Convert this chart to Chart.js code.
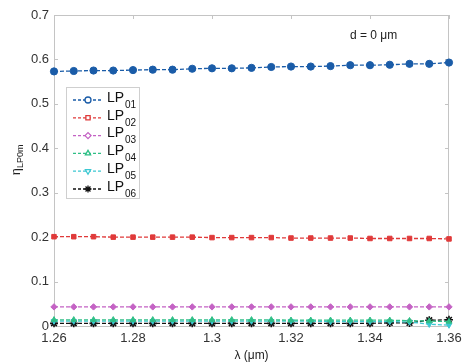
<!DOCTYPE html>
<html>
<head>
    <style>
        body { margin: 0; background: #fff; }
        #wrap { position: relative; width: 470px; height: 363px; }
    </style>
    <script src="https://cdn.jsdelivr.net/npm/chart.js"></script>
</head>
<body>
    <div id="wrap"><canvas id="myChart" width="470" height="363"></canvas></div>
    <script>
        // wavelength (um)
        var lambda = [1.26, 1.265, 1.27, 1.275, 1.28, 1.285, 1.29, 1.295, 1.3, 1.305, 1.31,
                      1.315, 1.32, 1.325, 1.33, 1.335, 1.34, 1.345, 1.35, 1.355, 1.36];
        var lp01 = [0.573, 0.574, 0.575, 0.575, 0.576, 0.577, 0.577, 0.579, 0.580, 0.580, 0.581,
                    0.583, 0.584, 0.584, 0.585, 0.587, 0.587, 0.588, 0.590, 0.590, 0.593];
        var lp02 = [0.201, 0.201, 0.201, 0.200, 0.200, 0.200, 0.200, 0.200, 0.199, 0.199, 0.199,
                    0.199, 0.198, 0.198, 0.198, 0.198, 0.197, 0.197, 0.197, 0.197, 0.196];
        var lp03 = [0.043, 0.043, 0.043, 0.043, 0.043, 0.043, 0.043, 0.043, 0.043, 0.043, 0.043,
                    0.043, 0.043, 0.043, 0.043, 0.043, 0.043, 0.043, 0.043, 0.043, 0.043];
        var lp04 = [0.014, 0.014, 0.014, 0.014, 0.014, 0.014, 0.014, 0.014, 0.014, 0.014, 0.014,
                    0.014, 0.013, 0.013, 0.013, 0.013, 0.013, 0.013, 0.012, 0.011, 0.010];
        var lp05 = [0.011, 0.011, 0.011, 0.011, 0.011, 0.011, 0.011, 0.011, 0.011, 0.011, 0.011,
                    0.011, 0.011, 0.011, 0.010, 0.010, 0.010, 0.010, 0.009, 0.004, 0.002];
        var lp06 = [0.006, 0.006, 0.006, 0.006, 0.006, 0.006, 0.006, 0.006, 0.006, 0.006, 0.006,
                    0.006, 0.006, 0.006, 0.006, 0.006, 0.006, 0.007, 0.007, 0.013, 0.014];
        var xTicks = [1.26, 1.28, 1.3, 1.32, 1.34, 1.36];
        var yTicks = [0, 0.1, 0.2, 0.3, 0.4, 0.5, 0.6, 0.7];
        var names = ['01', '02', '03', '04', '05', '06'];

        var colors = ['#1a5ca8', '#e03a3a', '#c462c4', '#2fbf86', '#3cc8d2', '#111111'];
        var shapes = ['circle', 'rect', 'rectRot', 'triangle', 'triangle', 'star'];
        var allData = [lp01, lp02, lp03, lp04, lp05, lp06];

        function pts(arr) {
            return arr.map(function(v, i) { return { x: lambda[i], y: v }; });
        }

        var datasets = allData.map(function(arr, k) {
            return {
                label: 'LP' + names[k],
                data: pts(arr),
                borderColor: colors[k],
                backgroundColor: colors[k],
                borderWidth: 1.3,
                borderDash: [4, 2],
                pointStyle: shapes[k],
                pointRotation: k === 4 ? 180 : 0,
                pointRadius: k === 0 ? 3.6 : (k === 5 ? 4 : 3.2),
                pointBorderWidth: k === 5 ? 1.6 : 1,
                clip: false,
                fill: false
            };
        });

        var font = 'Liberation Sans, Arial, sans-serif';

        var frame = {
            id: 'frame',
            beforeDatasetsDraw: function(chart) {
                var c = chart.ctx, a = chart.chartArea;
                var xs = chart.scales.x, ys = chart.scales.y;
                c.save();
                c.strokeStyle = '#c4c4c4';
                c.lineWidth = 1;
                c.strokeRect(a.left + 0.5, a.top + 0.5, a.right - a.left - 1, a.bottom - a.top);
                c.beginPath();
                xTicks.forEach(function(t) {
                    var px = Math.round(xs.getPixelForValue(t)) + 0.5;
                    c.moveTo(px, a.bottom); c.lineTo(px, a.bottom - 4);
                    c.moveTo(px, a.top); c.lineTo(px, a.top + 4);
                });
                yTicks.forEach(function(t) {
                    var py = Math.round(ys.getPixelForValue(t)) + 0.5;
                    c.moveTo(a.left, py); c.lineTo(a.left + 4, py);
                    c.moveTo(a.right, py); c.lineTo(a.right - 4, py);
                });
                c.stroke();
                c.restore();
            },
            afterDatasetsDraw: function(chart) {
                var c = chart.ctx;
                c.save();
                // annotation
                c.fillStyle = '#222';
                c.font = '12px ' + font;
                c.textBaseline = 'middle';
                c.fillText('d = 0 \u03bcm', 350, 36);

                // legend
                var lx = 66, ly = 87, lw = 73, lh = 111;
                c.fillStyle = '#fff';
                c.fillRect(lx, ly, lw, lh);
                c.strokeStyle = '#cfcfcf';
                c.lineWidth = 1;
                c.strokeRect(lx + 0.5, ly + 0.5, lw, lh);
                for (var k = 0; k < 6; k++) {
                    var yy = ly + 13 + k * 17.8;
                    c.strokeStyle = colors[k];
                    c.lineWidth = 1.3;
                    c.setLineDash([3, 2]);
                    c.beginPath();
                    c.moveTo(lx + 7, yy); c.lineTo(lx + 37, yy);
                    c.stroke();
                    c.setLineDash([]);
                    c.fillStyle = k === 5 ? colors[k] : '#fff';
                    Chart.helpers.drawPoint(c, {
                        pointStyle: shapes[k], radius: k === 5 ? 3.5 : 3,
                        rotation: k === 4 ? 180 : 0, borderWidth: 1
                    }, lx + 22, yy);
                    c.fillStyle = '#111';
                    c.font = '14px ' + font;
                    c.textBaseline = 'middle';
                    c.fillText('LP', lx + 41, yy - 2);
                    c.font = '10px ' + font;
                    c.fillText(names[k], lx + 59, yy + 5);
                }

                // y title
                c.translate(17, 160);
                c.rotate(-Math.PI / 2);
                c.fillStyle = '#222';
                c.font = '12px ' + font;
                c.textBaseline = 'middle';
                c.fillText('\u03b7', -15, 0);
                c.font = '9px ' + font;
                c.fillText('LP0m', -8, 4);
                c.restore();
            }
        };

        var ctx = document.getElementById('myChart').getContext('2d');
        var myChart = new Chart(ctx, {
            type: 'line',
            data: { datasets: datasets },
            options: {
                responsive: false,
                animation: false,
                layout: { padding: { top: 15, right: 21, left: 0, bottom: 0 } },
                plugins: { legend: { display: false }, tooltip: { enabled: false } },
                scales: {
                    x: {
                        type: 'linear',
                        min: 1.26, max: 1.36,
                        afterBuildTicks: function(s) { s.ticks = xTicks.map(function(v) { return { value: v }; }); },
                        afterFit: function(s) { s.height = 37; },
                        grid: { display: false, drawTicks: false },
                        border: { display: false },
                        ticks: {
                            color: '#333', font: { family: font, size: 13 }, padding: 5,
                            maxRotation: 0,
                            callback: function(v) { return String(Math.round(v * 100) / 100); }
                        },
                        title: { display: true, text: '\u03bb (\u03bcm)', color: '#222', font: { family: font, size: 12 }, padding: { top: 0, bottom: 0 } }
                    },
                    y: {
                        min: 0, max: 0.7,
                        afterBuildTicks: function(s) { s.ticks = yTicks.map(function(v) { return { value: v }; }); },
                        afterFit: function(s) { s.width = 54; },
                        grid: { display: false, drawTicks: false },
                        border: { display: false },
                        ticks: {
                            color: '#333', font: { family: font, size: 13 }, padding: 5,
                            callback: function(v) { return String(Math.round(v * 10) / 10); }
                        }
                    }
                }
            },
            plugins: [frame]
        });
    </script>
</body>
</html>
